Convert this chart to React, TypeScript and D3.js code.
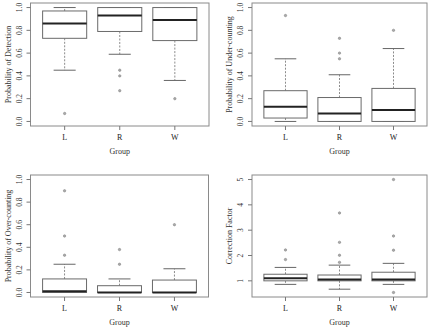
import React from 'react';
import * as d3 from 'd3';

// groups shared by every panel
const groups = ['L', 'R', 'W'];

// five-number summaries per group: [lower whisker, Q1, median, Q3, upper whisker]
const detectionStats = [
  [0.45, 0.73, 0.86, 0.97, 1.0],
  [0.59, 0.79, 0.93, 1.0, 1.0],
  [0.36, 0.71, 0.89, 1.0, 1.0],
];
const detectionOutliers = [[0.07], [0.45, 0.4, 0.27], [0.2]];

const underStats = [
  [0.0, 0.03, 0.13, 0.27, 0.55],
  [0.0, 0.0, 0.07, 0.21, 0.41],
  [0.0, 0.0, 0.1, 0.29, 0.64],
];
const underOutliers = [[0.93], [0.73, 0.6, 0.55], [0.8]];

const overStats = [
  [0.0, 0.0, 0.01, 0.12, 0.25],
  [0.0, 0.0, 0.0, 0.06, 0.12],
  [0.0, 0.0, 0.0, 0.11, 0.21],
];
const overOutliers = [[0.33, 0.5, 0.9], [0.25, 0.38], [0.6]];

const correctionStats = [
  [0.86, 1.0, 1.1, 1.26, 1.53],
  [0.67, 1.0, 1.05, 1.23, 1.62],
  [0.86, 1.0, 1.05, 1.34, 1.69],
];
const correctionOutliers = [[1.84, 2.22], [1.73, 2.01, 2.52, 3.68], [2.21, 2.77, 5.0, 0.54]];

const probTicks = [0, 0.2, 0.4, 0.6, 0.8, 1.0];
const factorTicks = [1, 2, 3, 4, 5];

type Panel = {
  title: string;
  stats: number[][];
  outliers: number[][];
  ticks: number[];
  fmt: (v: number) => string;
  fixed?: [number, number];
  x0: number; x1: number; y0: number; y1: number;
};

const panels: Panel[] = [
  { title: 'Probability of Detection', stats: detectionStats, outliers: detectionOutliers, ticks: probTicks,
    fmt: d3.format('.1f'), fixed: [0, 1], x0: 30.5, x1: 209, y0: 3, y1: 126 },
  { title: 'Probability of Under-counting', stats: underStats, outliers: underOutliers, ticks: probTicks,
    fmt: d3.format('.1f'), fixed: [0, 1], x0: 252, x1: 427, y0: 3, y1: 126 },
  { title: 'Probability of Over-counting', stats: overStats, outliers: overOutliers, ticks: probTicks,
    fmt: d3.format('.1f'), fixed: [0, 1], x0: 30.5, x1: 208.5, y0: 175, y1: 297 },
  { title: 'Correction Factor', stats: correctionStats, outliers: correctionOutliers, ticks: factorTicks,
    fmt: d3.format('d'), x0: 252, x1: 427, y0: 175, y1: 297 },
];

const FONT = '"Liberation Serif", "DejaVu Serif", serif';

// R-style 4% axis extension
const extend = (lo: number, hi: number): [number, number] => {
  const pad = (hi - lo) * 0.04;
  return [lo - pad, hi + pad];
};

const BoxPanel = ({ p }: { p: Panel }) => {
  const all = p.stats.flat().concat(p.outliers.flat());
  const [lo, hi] = p.fixed ?? (d3.extent(all) as [number, number]);
  const y = d3.scaleLinear().domain(extend(lo, hi)).range([p.y1, p.y0]);
  const x = d3.scaleLinear().domain(extend(0.5, groups.length + 0.5)).range([p.x0, p.x1]);
  const unit = x(2) - x(1);
  const bw = unit * 0.8;
  const cap = bw * 0.5;
  const yMid = (p.y0 + p.y1) / 2;

  return (
    <g>
      {p.stats.map((s, i) => {
        const cx = x(i + 1);
        const [wl, q1, med, q3, wh] = s;
        return (
          <g key={groups[i]}>
            <line x1={cx} x2={cx} y1={y(q3)} y2={y(wh)} stroke="#8c8c8c" strokeDasharray="2,1.5" />
            <line x1={cx} x2={cx} y1={y(q1)} y2={y(wl)} stroke="#8c8c8c" strokeDasharray="2,1.5" />
            <line x1={cx - cap / 2} x2={cx + cap / 2} y1={y(wh)} y2={y(wh)} stroke="#666" />
            <line x1={cx - cap / 2} x2={cx + cap / 2} y1={y(wl)} y2={y(wl)} stroke="#666" />
            <rect x={cx - bw / 2} y={y(q3)} width={bw} height={Math.max(0, y(q1) - y(q3))}
              fill="#fff" stroke="#6a6a6a" />
            <line x1={cx - bw / 2} x2={cx + bw / 2} y1={y(med)} y2={y(med)} stroke="#222" strokeWidth={2} />
            {p.outliers[i].map((o, j) => (
              <circle key={j} cx={cx} cy={y(o)} r={1.2} fill="#aaa" stroke="#888" strokeWidth={0.6} />
            ))}
          </g>
        );
      })}
      <rect x={p.x0} y={p.y0} width={p.x1 - p.x0} height={p.y1 - p.y0} fill="none" stroke="#8a8a8a" />
      {p.ticks.map((t) => (
        <g key={t}>
          <line x1={p.x0 - 4} x2={p.x0} y1={y(t)} y2={y(t)} stroke="#777" />
          <text transform={`translate(${p.x0 - 9},${y(t)}) rotate(-90)`} textAnchor="middle"
            fontSize={7.5} fill="#333">{p.fmt(t)}</text>
        </g>
      ))}
      {groups.map((g, i) => (
        <g key={g}>
          <line x1={x(i + 1)} x2={x(i + 1)} y1={p.y1} y2={p.y1 + 4} stroke="#777" />
          <text x={x(i + 1)} y={p.y1 + 14} textAnchor="middle" fontSize={8} fill="#222">{g}</text>
        </g>
      ))}
      <text x={(p.x0 + p.x1) / 2} y={p.y1 + 28} textAnchor="middle" fontSize={8} fill="#333">Group</text>
      <text transform={`translate(${p.x0 - 20},${yMid}) rotate(-90)`} textAnchor="middle"
        fontSize={8} fill="#333">{p.title}</text>
    </g>
  );
};

export default function App() {
  return (
    <svg width={435} height={327} style={{ position: 'absolute', left: 0, top: 0, background: '#fff' }}
      fontFamily={FONT}>
      {panels.map((p) => <BoxPanel key={p.title} p={p} />)}
    </svg>
  );
}
